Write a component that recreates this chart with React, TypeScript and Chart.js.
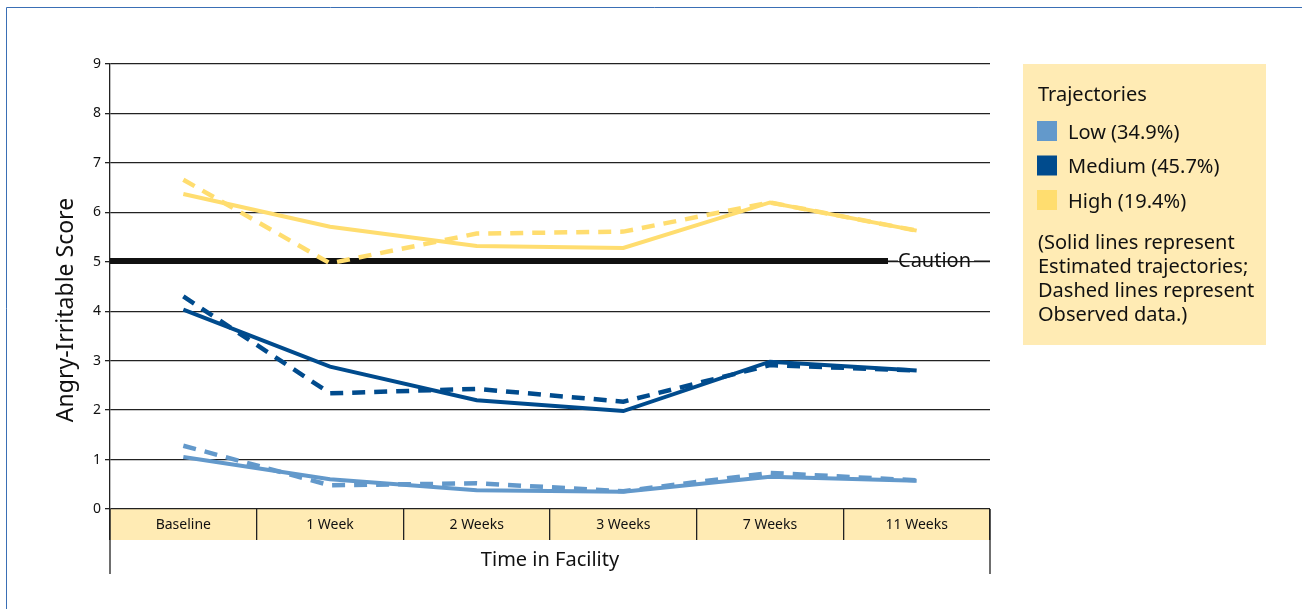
import React, { useEffect, useRef } from "react";
import { Chart, registerables } from "chart.js";

Chart.register(...registerables);

const categories = ["Baseline", "1 Week", "2 Weeks", "3 Weeks", "7 Weeks", "11 Weeks"];
const lowEstimated = [1.05, 0.6, 0.38, 0.35, 0.65, 0.57];
const lowObserved = [1.28, 0.48, 0.52, 0.36, 0.73, 0.58];
const mediumEstimated = [4.03, 2.88, 2.2, 1.98, 2.98, 2.8];
const mediumObserved = [4.3, 2.34, 2.43, 2.17, 2.91, 2.8];
const highEstimated = [6.37, 5.71, 5.32, 5.28, 6.2, 5.63];
const highObserved = [6.66, 4.97, 5.57, 5.61, 6.2, 5.63];

const yMin = 0;
const yMax = 9;
const cautionLevel = 5;
const cautionLabel = "Caution";
const yTitle = "Angry-Irritable Score";
const xTitle = "Time in Facility";
const legendTitle = "Trajectories";
const legendLabels = ["Low (34.9%)", "Medium (45.7%)", "High (19.4%)"];
const legendNote = [
  "(Solid lines represent",
  "Estimated trajectories;",
  "Dashed lines represent",
  "Observed data.)",
];

const LOW = "#6399cb";
const MED = "#004b8d";
const HIGH = "#ffdd6f";
const BAND = "#ffebb4";
const FONT = "'Noto Sans', 'Open Sans', sans-serif";

const overlayPlugin = {
  id: "overlay",
  beforeDraw(chart: any) {
    const { ctx, chartArea: ca } = chart;
    ctx.save();
    ctx.fillStyle = BAND;
    ctx.fillRect(ca.left, ca.bottom, ca.right - ca.left, 31);
    ctx.restore();
  },
  beforeDatasetsDraw(chart: any) {
    const { ctx, chartArea: ca, scales } = chart;
    const y = Math.round(scales.y.getPixelForValue(cautionLevel)) - 1;
    ctx.save();
    ctx.strokeStyle = "#111";
    ctx.lineWidth = 6;
    ctx.beginPath();
    ctx.moveTo(ca.left, y);
    ctx.lineTo(888, y);
    ctx.stroke();
    ctx.lineWidth = 1.2;
    ctx.beginPath();
    ctx.moveTo(886, y);
    ctx.lineTo(898, y);
    ctx.moveTo(974, y);
    ctx.lineTo(ca.right, y);
    ctx.stroke();
    ctx.fillStyle = "#111";
    ctx.font = `20px ${FONT}`;
    ctx.textAlign = "left";
    ctx.textBaseline = "middle";
    ctx.fillText(cautionLabel, 898, y);
    ctx.restore();
  },
  afterDraw(chart: any) {
    const { ctx, chartArea: ca } = chart;
    ctx.save();
    // frame
    ctx.strokeStyle = "#3a6fb5";
    ctx.lineWidth = 1;
    ctx.beginPath();
    ctx.moveTo(6.5, 609);
    ctx.lineTo(6.5, 7.5);
    ctx.lineTo(1302, 7.5);
    ctx.stroke();
    // axis extensions
    ctx.strokeStyle = "#222";
    ctx.lineWidth = 1.3;
    ctx.beginPath();
    ctx.moveTo(ca.left, ca.bottom);
    ctx.lineTo(ca.left, 574);
    ctx.moveTo(ca.right, ca.bottom);
    ctx.lineTo(ca.right, 574);
    ctx.stroke();
    // titles
    ctx.fillStyle = "#111";
    ctx.font = `20px ${FONT}`;
    ctx.textAlign = "center";
    ctx.textBaseline = "middle";
    ctx.fillText(xTitle, (ca.left + ca.right) / 2, 560);
    ctx.save();
    ctx.translate(66, 310);
    ctx.rotate(-Math.PI / 2);
    ctx.font = `23px ${FONT}`;
    ctx.fillText(yTitle, 0, 0);
    ctx.restore();
    // legend
    ctx.fillStyle = BAND;
    ctx.fillRect(1023, 64, 243, 281);
    ctx.fillStyle = "#111";
    ctx.font = `20px ${FONT}`;
    ctx.textAlign = "left";
    ctx.textBaseline = "middle";
    ctx.fillText(legendTitle, 1038, 95);
    const colors = [LOW, MED, HIGH];
    legendLabels.forEach((lab, i) => {
      const cy = 131 + i * 34.5;
      ctx.fillStyle = colors[i];
      ctx.fillRect(1037, cy - 10, 20, 20);
      ctx.fillStyle = "#111";
      ctx.fillText(lab, 1068, cy + 2);
    });
    legendNote.forEach((line, i) => {
      ctx.fillText(line, 1038, 243 + i * 24);
    });
    ctx.restore();
  },
};

export default function App() {
  const ref = useRef<HTMLCanvasElement | null>(null);
  useEffect(() => {
    if (!ref.current) return;
    const solid = (label: string, data: number[], color: string) => ({
      label,
      data,
      borderColor: color,
      backgroundColor: color,
      borderWidth: 4,
      pointRadius: 0,
      tension: 0,
      fill: false,
    });
    const dashed = (label: string, data: number[], color: string) => ({
      ...solid(label, data, color),
      borderDash: [13, 9],
      borderWidth: 4.5,
    });
    const chart = new Chart(ref.current, {
      type: "line",
      data: {
        labels: categories,
        datasets: [
          dashed("Low observed", lowObserved, LOW),
          solid("Low estimated", lowEstimated, LOW),
          dashed("Medium observed", mediumObserved, MED),
          solid("Medium estimated", mediumEstimated, MED),
          dashed("High observed", highObserved, HIGH),
          solid("High estimated", highEstimated, HIGH),
        ],
      },
      options: {
        responsive: false,
        animation: false,
        layout: { padding: { left: 0, right: 312, top: 64, bottom: 0 } },
        plugins: { legend: { display: false }, tooltip: { enabled: false } },
        scales: {
          x: {
            type: "category",
            offset: true,
            afterFit: (s: any) => {
              s.height = 100;
            },
            border: { display: false },
            grid: {
              display: true,
              offset: true,
              drawOnChartArea: false,
              drawTicks: true,
              tickLength: 31,
              color: "#222",
              lineWidth: 1.3,
            },
            ticks: {
              color: "#111",
              font: { family: FONT, size: 14 },
              padding: -23,
              maxRotation: 0,
            },
          },
          y: {
            min: yMin,
            max: yMax,
            afterFit: (s: any) => {
              s.width = 110;
            },
            border: { display: true, color: "#222", width: 1.3 },
            grid: {
              color: "#222",
              lineWidth: 1.3,
              drawTicks: true,
              tickLength: 5,
            },
            ticks: {
              stepSize: 1,
              color: "#111",
              font: { family: FONT, size: 14 },
              padding: 4,
            },
          },
        },
      },
      plugins: [overlayPlugin],
    });
    return () => chart.destroy();
  }, []);
  return (
    <div style={{ position: "fixed", left: 0, top: 0, width: 1302, height: 609, background: "#fff" }}>
      <canvas ref={ref} width={1302} height={609} style={{ display: "block", width: 1302, height: 609 }} />
    </div>
  );
}
